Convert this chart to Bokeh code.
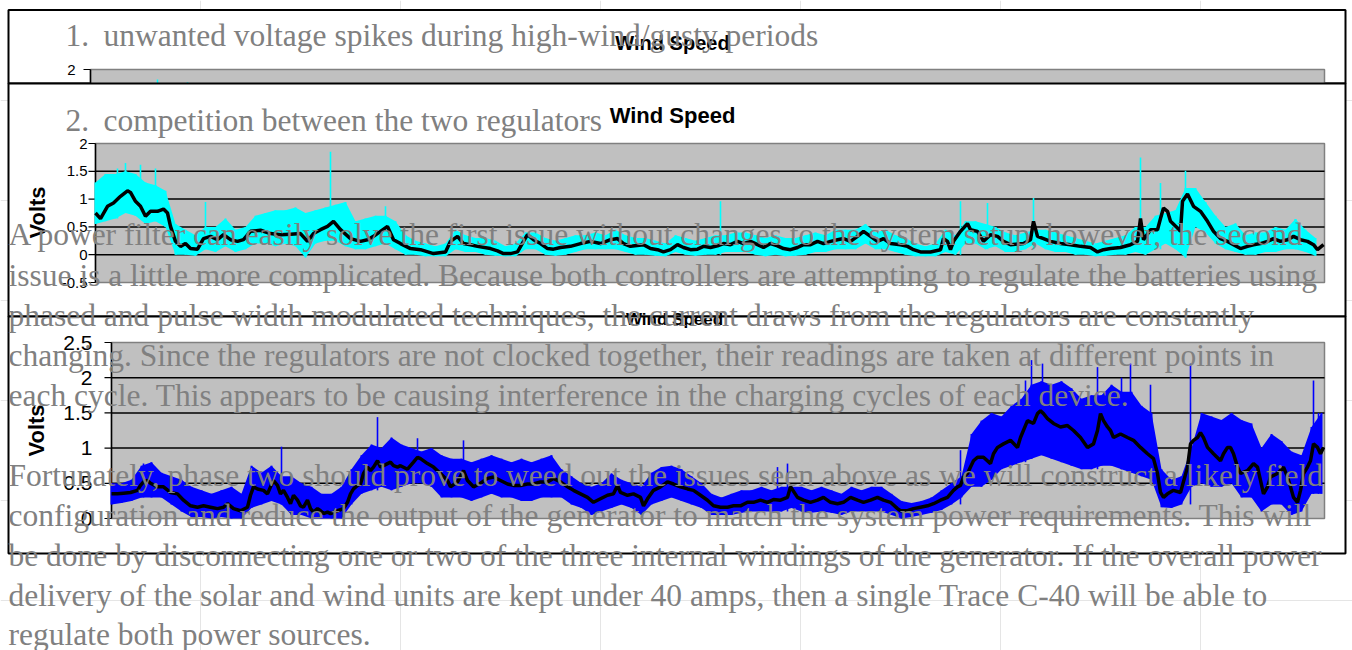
import numpy as np
from bokeh.plotting import figure
from bokeh.models import Range1d
from bokeh.core.properties import value
from bokeh.embed import file_html
from bokeh.resources import INLINE

# ---------------- data ----------------
CHART_TITLE = "Wind Speed"
Y_LABEL = "Volts"

# chart 1 (mostly hidden behind chart 2): only a couple of spikes show
box1_ticks = [2]
box1_tick_labels = ["2"]
box1_spike_t = [67, 97]
box1_spike_lo = [1.20, 1.20]
box1_spike_hi = [1.82, 1.77]

# chart 2 : cyan raw signal band (min/max every 10 samples), isolated spikes, black average
box2_ticks = [-0.5, 0, 0.5, 1, 1.5, 2]
box2_tick_labels = ["-0.5", "0", "0.5", "1", "1.5", "2"]
box2_hi = [1.30, 1.45, 1.45, 1.50, 1.45, 1.30, 1.25, 1.15, 0.55, 0.45,
           0.35, 0.50, 0.50, 0.65, 0.45, 0.50, 0.70, 0.75, 0.80, 0.80,
           0.85, 0.75, 0.80, 0.85, 0.90, 0.95, 0.60, 0.65, 0.70, 0.70,
           0.60, 0.35, 0.25, 0.20, 0.15, 0.20, 0.45, 0.35, 0.30, 0.30,
           0.25, 0.15, 0.20, 0.40, 0.40, 0.30, 0.25, 0.30, 0.35, 0.35,
           0.40, 0.35, 0.45, 0.35, 0.30, 0.30, 0.25, 0.20, 0.35, 0.30,
           0.25, 0.30, 0.35, 0.35, 0.40, 0.40, 0.35, 0.30, 0.35, 0.30,
           0.30, 0.35, 0.40, 0.35, 0.45, 0.45, 0.45, 0.55, 0.40, 0.45,
           0.35, 0.30, 0.20, 0.15, 0.20, 0.45, 0.35, 0.60, 0.60, 0.55,
           0.50, 0.40, 0.35, 0.40, 0.45, 0.45, 0.40, 0.35, 0.30, 0.25,
           0.20, 0.25, 0.30, 0.35, 0.50, 0.50, 0.70, 0.75, 0.80, 1.20,
           1.20, 0.95, 0.70, 0.50, 0.56, 0.35, 0.40, 0.40, 0.50, 0.45,
           0.64, 0.45, 0.30]
box2_lo = [0.55, 0.60, 0.65, 0.75, 0.70, 0.55, 0.60, 0.50, 0.00, 0.00,
           -0.02, 0.10, 0.05, 0.15, 0.05, 0.10, 0.20, 0.20, 0.15, 0.20,
           0.15, -0.05, 0.20, 0.25, 0.25, 0.15, 0.10, 0.10, 0.15, 0.20,
           0.10, 0.00, 0.00, -0.03, -0.03, -0.03, 0.10, 0.05, 0.05, 0.00,
           -0.02, -0.03, -0.03, 0.10, 0.10, 0.00, -0.02, 0.00, 0.05, 0.10,
           0.10, 0.10, 0.10, 0.05, 0.00, 0.00, -0.02, -0.03, 0.05, 0.00,
           -0.02, 0.00, 0.00, 0.05, 0.05, 0.05, 0.00, -0.03, 0.00, -0.03,
           -0.02, 0.00, 0.05, 0.05, 0.10, 0.10, 0.10, 0.20, 0.10, 0.10,
           0.05, 0.00, -0.03, -0.03, -0.03, 0.05, 0.00, 0.20, 0.20, 0.10,
           0.15, 0.05, 0.05, 0.10, 0.20, 0.10, 0.05, 0.05, 0.00, 0.00,
           -0.03, -0.02, 0.00, 0.00, 0.05, 0.00, 0.10, 0.20, 0.10, -0.05,
           0.50, 0.40, 0.20, 0.10, 0.05, 0.00, 0.00, 0.05, 0.05, 0.10,
           0.10, 0.05, -0.02]
box2_spike_t = [22, 30, 45, 60, 110, 235, 290, 625, 865, 892, 938, 1045, 1065, 1090, 1140, 1200]
box2_spike_v = [1.55, 1.65, 1.62, 1.55, 0.95, 1.85, 0.87, 0.96, 0.96, 0.93, 1.02, 1.75, 1.29, 1.51,
                0.56, 0.64]
box2_avg_t = [0, 5, 12, 18, 25, 32, 35, 40, 45, 50, 55, 62, 68, 72, 75, 80, 85, 90, 95, 102,
              108, 115, 122, 128, 135, 142, 148, 155, 165, 175, 185, 195, 205, 212, 218, 225,
              232, 238, 245, 255, 265, 272, 278, 285, 292, 298, 305, 315, 325, 338, 350, 355,
              362, 368, 375, 382, 395, 402, 408, 415, 422, 428, 432, 438, 445, 452, 458, 465,
              475, 485, 495, 505, 515, 522, 528, 535, 548, 555, 562, 568, 575, 582, 588, 595,
              602, 608, 615, 622, 628, 635, 642, 648, 655, 662, 668, 675, 682, 688, 695, 702,
              708, 715, 722, 728, 735, 742, 748, 755, 762, 768, 775, 782, 788, 795, 805, 812,
              818, 825, 835, 845, 848, 852, 855, 858, 865, 872, 875, 882, 888, 895, 902, 908,
              915, 928, 935, 938, 942, 948, 955, 965, 975, 985, 995, 1002, 1008, 1015, 1025,
              1035, 1042, 1045, 1048, 1055, 1062, 1065, 1068, 1072, 1075, 1082, 1085, 1087,
              1092, 1098, 1105, 1112, 1118, 1125, 1132, 1138, 1145, 1152, 1158, 1165, 1172,
              1178, 1185, 1192, 1198, 1205, 1212, 1218, 1222, 1228]
box2_avg = [0.75, 0.65, 0.87, 0.93, 1.05, 1.15, 1.12, 0.96, 0.87, 0.69, 0.78, 0.78, 0.82, 0.75,
            0.51, 0.24, 0.15, 0.20, 0.11, 0.10, 0.29, 0.33, 0.27, 0.36, 0.27, 0.24, 0.27, 0.42,
            0.44, 0.38, 0.36, 0.37, 0.38, 0.24, 0.38, 0.45, 0.51, 0.60, 0.45, 0.29, 0.24, 0.27,
            0.33, 0.42, 0.51, 0.27, 0.20, 0.11, 0.09, 0.02, 0.05, 0.24, 0.33, 0.20, 0.18, 0.15,
            0.11, 0.07, 0.02, 0.02, 0.05, 0.24, 0.36, 0.27, 0.20, 0.11, 0.10, 0.13, 0.15, 0.20,
            0.24, 0.20, 0.27, 0.29, 0.20, 0.15, 0.18, 0.11, 0.09, 0.05, 0.09, 0.18, 0.13, 0.09,
            0.10, 0.15, 0.13, 0.16, 0.20, 0.18, 0.24, 0.20, 0.24, 0.18, 0.13, 0.20, 0.16, 0.11,
            0.09, 0.13, 0.18, 0.18, 0.24, 0.20, 0.24, 0.27, 0.29, 0.24, 0.33, 0.42, 0.33, 0.24,
            0.29, 0.20, 0.18, 0.15, 0.09, 0.05, 0.05, 0.09, 0.29, 0.24, 0.09, 0.24, 0.42, 0.56,
            0.45, 0.42, 0.24, 0.36, 0.33, 0.24, 0.18, 0.20, 0.27, 0.60, 0.33, 0.29, 0.24, 0.20,
            0.18, 0.15, 0.13, 0.05, 0.09, 0.11, 0.13, 0.18, 0.24, 0.65, 0.27, 0.45, 0.45, 0.65,
            0.84, 0.78, 0.60, 0.48, 0.42, 0.96, 1.09, 0.87, 0.78, 0.60, 0.42, 0.29, 0.24, 0.18,
            0.11, 0.15, 0.18, 0.20, 0.24, 0.29, 0.24, 0.27, 0.33, 0.27, 0.24, 0.18, 0.09, 0.18]

# chart 3 : blue raw signal band (min/max every 10 samples), isolated spikes, black average
box3_ticks = [0, 0.5, 1, 1.5, 2, 2.5]
box3_tick_labels = ["0", "0.5", "1", "1.5", "2", "2.5"]
box3_hi = [0.50, 0.50, 0.55, 0.75, 0.80, 0.65, 0.60, 0.55, 0.45, 0.40,
           0.35, 0.40, 0.45, 0.35, 0.75, 0.65, 0.75, 0.60, 0.60, 0.50,
           0.45, 0.35, 0.35, 0.45, 0.70, 0.90, 1.05, 1.00, 1.15, 1.05,
           1.00, 0.95, 1.00, 0.90, 0.85, 0.85, 0.80, 0.85, 0.90, 0.85,
           0.80, 0.85, 0.80, 0.85, 0.90, 0.70, 0.60, 0.50, 0.45, 0.50,
           0.64, 0.55, 0.50, 0.45, 0.65, 0.73, 0.75, 0.70, 0.60, 0.50,
           0.35, 0.30, 0.35, 0.40, 0.40, 0.45, 0.40, 0.45, 0.45, 0.45,
           0.40, 0.45, 0.40, 0.35, 0.45, 0.40, 0.45, 0.45, 0.35, 0.25,
           0.22, 0.25, 0.30, 0.40, 0.50, 0.60, 1.20, 1.39, 1.50, 1.45,
           1.60, 1.70, 1.90, 1.95, 1.90, 1.95, 1.85, 1.70, 1.75, 1.75,
           1.90, 1.80, 1.80, 1.60, 1.50, 0.70, 0.55, 0.60, 1.00, 1.50,
           1.45, 1.40, 1.50, 1.40, 1.35, 1.00, 1.20, 1.10, 0.95, 0.90,
           1.30, 1.50]
box3_lo = [0.20, 0.22, 0.25, 0.30, 0.30, 0.30, 0.20, 0.10, 0.02, 0.02,
           0.00, 0.02, 0.00, 0.00, 0.15, 0.20, 0.25, 0.20, 0.05, 0.05,
           0.00, 0.00, 0.00, 0.00, 0.20, 0.35, 0.40, 0.45, 0.40, 0.45,
           0.50, 0.50, 0.45, 0.30, 0.30, 0.30, 0.25, 0.30, 0.35, 0.30,
           0.30, 0.25, 0.25, 0.30, 0.30, 0.30, 0.20, 0.15, 0.05, 0.10,
           0.15, 0.20, 0.15, 0.05, 0.20, 0.25, 0.30, 0.25, 0.20, 0.15,
           0.05, 0.05, 0.05, 0.08, 0.10, 0.10, 0.10, 0.10, 0.15, 0.10,
           0.08, 0.10, 0.08, 0.05, 0.10, 0.10, 0.10, 0.10, 0.05, 0.00,
           0.02, 0.05, 0.08, 0.12, 0.20, 0.30, 0.45, 0.45, 0.55, 0.70,
           0.75, 0.80, 0.85, 0.90, 0.85, 0.80, 0.75, 0.70, 0.70, 0.75,
           0.75, 0.70, 0.65, 0.60, 0.55, 0.16, 0.15, 0.20, 0.45, 0.50,
           0.45, 0.45, 0.50, 0.30, 0.30, 0.10, 0.20, 0.20, 0.05, 0.10,
           0.35, 0.35]
box3_spike_t = [32, 170, 266, 306, 352, 666, 676, 849, 914, 920, 931, 986, 1010, 1019, 1039,
                1079, 1202, 1207]
box3_spike_v = [0.78, 1.02, 1.44, 1.14, 1.11, 0.73, 0.78, 0.97, 1.96, 2.25, 2.20, 2.15, 2.00,
                2.20, 1.90, 2.20, 1.96, 1.50]
box3_avg_t = [0, 6, 12, 19, 26, 29, 32, 36, 39, 46, 52, 59, 66, 72, 79, 86, 92, 99, 106, 112,
              116, 122, 129, 136, 139, 142, 146, 152, 156, 159, 162, 166, 169, 172, 176, 179,
              182, 186, 189, 192, 196, 199, 202, 206, 209, 212, 216, 219, 226, 232, 236, 239,
              242, 246, 249, 252, 256, 259, 262, 266, 269, 272, 276, 279, 282, 286, 289, 296,
              302, 306, 309, 316, 322, 329, 336, 339, 346, 352, 356, 362, 369, 376, 382, 389,
              396, 402, 409, 416, 422, 429, 436, 442, 449, 456, 462, 469, 476, 482, 489, 496,
              502, 506, 509, 516, 522, 529, 532, 536, 542, 549, 556, 562, 569, 576, 582, 589,
              596, 602, 609, 616, 622, 629, 636, 642, 649, 656, 662, 669, 676, 679, 686, 692,
              699, 706, 712, 719, 726, 732, 739, 746, 752, 759, 766, 772, 779, 786, 789, 796,
              802, 809, 816, 822, 829, 836, 842, 846, 849, 852, 856, 859, 862, 866, 872, 879,
              882, 886, 892, 899, 906, 909, 916, 922, 926, 929, 932, 936, 942, 949, 956, 962,
              969, 976, 982, 986, 989, 992, 996, 999, 1002, 1009, 1016, 1022, 1029, 1036, 1042,
              1046, 1049, 1052, 1056, 1062, 1069, 1076, 1079, 1082, 1086, 1089, 1092, 1096,
              1102, 1109, 1112, 1116, 1119, 1122, 1126, 1129, 1136, 1142, 1146, 1149, 1152,
              1156, 1159, 1166, 1172, 1176, 1179, 1182, 1186, 1189, 1192, 1196, 1199, 1202,
              1206, 1209, 1212]
box3_avg = [0.35, 0.35, 0.36, 0.37, 0.40, 0.47, 0.52, 0.54, 0.50, 0.45, 0.45, 0.37, 0.35, 0.26,
            0.18, 0.16, 0.18, 0.16, 0.14, 0.16, 0.21, 0.14, 0.11, 0.16, 0.33, 0.45, 0.42, 0.40,
            0.35, 0.45, 0.54, 0.47, 0.35, 0.40, 0.30, 0.21, 0.33, 0.26, 0.18, 0.16, 0.26, 0.14,
            0.09, 0.14, 0.11, 0.07, 0.09, 0.07, 0.11, 0.14, 0.23, 0.35, 0.42, 0.47, 0.49, 0.64,
            0.73, 0.68, 0.73, 0.82, 0.73, 0.75, 0.78, 0.80, 0.75, 0.73, 0.75, 0.70, 0.80, 0.87,
            0.85, 0.78, 0.73, 0.64, 0.54, 0.45, 0.52, 0.68, 0.54, 0.45, 0.50, 0.57, 0.59, 0.54,
            0.49, 0.47, 0.47, 0.49, 0.49, 0.52, 0.52, 0.57, 0.52, 0.45, 0.40, 0.35, 0.30, 0.23,
            0.28, 0.33, 0.35, 0.47, 0.37, 0.33, 0.35, 0.30, 0.18, 0.28, 0.40, 0.45, 0.52, 0.49,
            0.45, 0.42, 0.40, 0.33, 0.26, 0.18, 0.16, 0.16, 0.18, 0.18, 0.23, 0.23, 0.26, 0.23,
            0.27, 0.26, 0.30, 0.45, 0.30, 0.26, 0.23, 0.26, 0.30, 0.23, 0.21, 0.23, 0.30, 0.26,
            0.23, 0.26, 0.30, 0.26, 0.23, 0.14, 0.11, 0.11, 0.14, 0.16, 0.18, 0.21, 0.26, 0.30,
            0.40, 0.45, 0.47, 0.59, 0.64, 0.73, 0.82, 0.87, 0.87, 0.78, 0.92, 1.01, 1.06, 1.11,
            1.01, 1.15, 1.39, 1.35, 1.49, 1.53, 1.49, 1.42, 1.35, 1.30, 1.32, 1.25, 1.15, 1.01,
            1.06, 1.25, 1.49, 1.39, 1.30, 1.25, 1.15, 1.20, 1.15, 1.11, 1.01, 0.92, 0.85, 0.64,
            0.37, 0.30, 0.35, 0.40, 0.37, 0.73, 1.06, 1.11, 1.15, 1.22, 1.15, 1.01, 0.92, 0.82,
            0.92, 1.01, 1.01, 0.92, 0.73, 0.64, 0.68, 0.78, 0.73, 0.54, 0.35, 0.45, 0.59, 0.64,
            0.73, 0.59, 0.45, 0.30, 0.23, 0.40, 0.64, 0.73, 0.82, 1.06, 1.01, 0.92, 1.01]

# page text
list_numbers = ["1.", "2."]
list_items = ["unwanted voltage spikes during high-wind/gusty periods",
              "competition between the two regulators"]
paragraph_1 = [
    "A power filter can easily solve the first issue without changes to the system setup, however, the second",
    "issue is a little more complicated. Because both controllers are attempting to regulate the batteries using",
    "phased and pulse width modulated techniques, the current draws from the regulators are constantly",
    "changing. Since the regulators are not clocked together, their readings are taken at different points in",
    "each cycle. This appears to be causing interference in the charging cycles of each device.",
]
paragraph_2 = [
    "Fortunately, phase two should prove to weed out the issues seen above as we will construct a likely field",
    "configuration and reduce the output of the generator to match the system power requirements. This will",
    "be done by disconnecting one or two of the three internal windings of the generator. If the overall power",
    "delivery of the solar and wind units are kept under 40 amps, then a single Trace C-40 will be able to",
    "regulate both power sources.",
]

# ---------------- styles ----------------
SANS = value("Liberation Sans")
SERIF = value("Liberation Serif")
PLOT_FILL = "#C0C0C0"
PLOT_EDGE = "#808080"
TEXT_GRAY = "#808080"
STEP = 10

p = figure(width=1352, height=650, x_range=Range1d(0, 1352), y_range=Range1d(650, 0),
           output_backend="svg", toolbar_location=None, min_border=0,
           x_axis_location=None, y_axis_location=None)
p.outline_line_color = None
p.background_fill_color = "white"
p.border_fill_color = "white"


def frame_box(top, bottom):
    p.quad(left=[8], right=[1345], top=[top], bottom=[bottom],
           fill_color="white", line_color="black", line_width=2)


def chart(sub, xmax, ymin, ymax, ticks, labels, grid, label_size, label_off, tick_len):
    sub.quad(left=[0], right=[xmax], bottom=[ymin], top=[ymax],
             fill_color=PLOT_FILL, line_color=PLOT_EDGE, line_width=1.5)
    sub.segment(x0=[0] * len(grid), x1=[xmax] * len(grid), y0=grid, y1=grid,
                line_color="black", line_width=1.5)
    sub.segment(x0=[0], x1=[0], y0=[ymin], y1=[ymax], line_color="black", line_width=1.5)
    sub.segment(x0=[-tick_len] * len(ticks), x1=[0] * len(ticks), y0=ticks, y1=ticks,
                line_color="black", line_width=1.2)
    sub.text(x=[0] * len(ticks), y=ticks, text=labels, x_offset=label_off,
             text_align="right", text_baseline="middle", text_font=SANS,
             text_font_size=label_size, text_color="black")


def noise(sub, hi, lo, sp_t, sp_v, color):
    t = np.arange(len(hi)) * STEP
    sub.varea(x=t, y1=lo, y2=hi, fill_color=color)
    sub.segment(x0=t, x1=t, y0=lo, y1=hi, line_color=color, line_width=2)
    idx = np.asarray(sp_t) // STEP
    base = np.asarray(lo)[idx]
    sub.segment(x0=sp_t, x1=sp_t, y0=base, y1=sp_v, line_color=color, line_width=1.6)


# ---------- chart 1 ----------
frame_box(9.5, 83)
s1 = p.subplot(x_source=Range1d(0, 1234), y_source=Range1d(-0.5, 2.0),
               x_target=Range1d(90, 1324), y_target=Range1d(208, 69))
chart(s1, 1234, -0.5, 2.0, box1_ticks, box1_tick_labels, [], "15px", -15, 7)
s1.segment(x0=box1_spike_t, x1=box1_spike_t, y0=box1_spike_lo, y1=box1_spike_hi,
           line_color="#00FFFF", line_width=1.5)
p.text(x=[672], y=[42], text=[CHART_TITLE], text_align="center", text_baseline="middle",
       text_font=SANS, text_font_style="bold", text_font_size="20px", text_color="black")

# ---------- chart 2 ----------
frame_box(83, 316)
s2 = p.subplot(x_source=Range1d(0, 1229), y_source=Range1d(-0.5, 2.0),
               x_target=Range1d(95, 1324), y_target=Range1d(282, 143))
chart(s2, 1229, -0.5, 2.0, box2_ticks, box2_tick_labels, [0, 0.5, 1, 1.5], "15px", -8, 7)
noise(s2, box2_hi, box2_lo, box2_spike_t, box2_spike_v, "#00FFFF")
s2.line(x=box2_avg_t, y=box2_avg, line_color="black", line_width=3.5)
p.text(x=[672], y=[115], text=[CHART_TITLE], text_align="center", text_baseline="middle",
       text_font=SANS, text_font_style="bold", text_font_size="22px", text_color="black")
p.text(x=[37], y=[212], text=[Y_LABEL], angle=np.pi / 2, text_align="center",
       text_baseline="middle", text_font=SANS, text_font_style="bold",
       text_font_size="22px", text_color="black")

# ---------- chart 3 ----------
frame_box(316, 553)
s3 = p.subplot(x_source=Range1d(0, 1213), y_source=Range1d(0, 2.5),
               x_target=Range1d(111, 1324), y_target=Range1d(518, 342))
chart(s3, 1213, 0, 2.5, box3_ticks, box3_tick_labels, [0.5, 1, 1.5, 2], "21px", -19, 7)
noise(s3, box3_hi, box3_lo, box3_spike_t, box3_spike_v, "#0000FF")
s3.line(x=box3_avg_t, y=box3_avg, line_color="black", line_width=3.5)
p.text(x=[674], y=[319], text=[CHART_TITLE], text_align="center", text_baseline="middle",
       text_font=SANS, text_font_style="bold", text_font_size="17px", text_color="black")
p.text(x=[36], y=[430], text=[Y_LABEL], angle=np.pi / 2, text_align="center",
       text_baseline="middle", text_font=SANS, text_font_style="bold",
       text_font_size="22px", text_color="black")

# ---------- page text (on top) ----------
FS = "31.5px"
p.text(x=[65, 65], y=[35, 120], text=list_numbers, text_font=SERIF, text_font_size=FS,
       text_color=TEXT_GRAY, text_baseline="alphabetic")
p.text(x=[103, 103], y=[35, 120], text=list_items, text_font=SERIF, text_font_size=FS,
       text_color=TEXT_GRAY, text_baseline="alphabetic")
p.text(x=[8] * 5, y=[234, 274.5, 314.5, 355, 395], text=paragraph_1, text_font=SERIF,
       text_font_size=FS, text_color=TEXT_GRAY, text_baseline="alphabetic")
p.text(x=[8] * 5, y=[475, 515, 555, 595, 634], text=paragraph_2, text_font=SERIF,
       text_font_size=FS, text_color=TEXT_GRAY, text_baseline="alphabetic")

open("out.html", "w").write(file_html(p, INLINE))
